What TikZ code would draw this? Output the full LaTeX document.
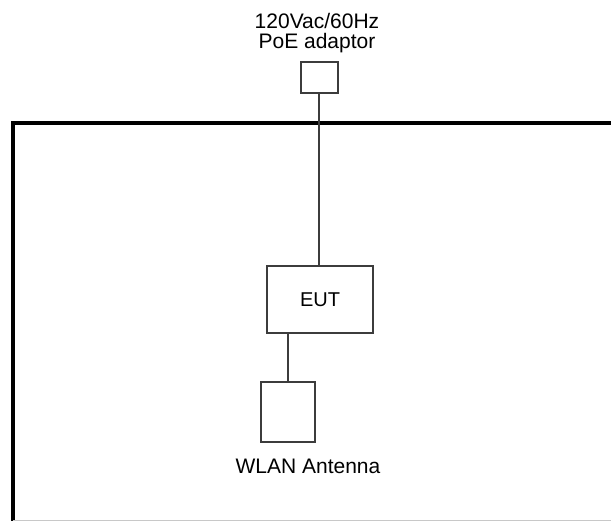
\documentclass[tikz,border=0pt]{standalone}
\usepackage{fontspec}
\setmainfont{Liberation Sans}
\usetikzlibrary{positioning}
\definecolor{edge}{HTML}{3C3C3C}
\definecolor{wall}{HTML}{000000}
\definecolor{crop}{HTML}{C8C8C8}

\begin{document}
\begin{tikzpicture}[x=1pt, y=-1pt,
  unit/.style={draw=edge, line width=2pt, fill=white, inner sep=0pt,
               font=\fontsize{20}{20}\selectfont},
  lbl/.style={font=\fontsize{21}{20}\selectfont, align=center, inner sep=0pt},
  wire/.style={draw=edge, line width=2pt}
]
\useasboundingbox (0,0) rectangle (611,521);

% Shielded room (only left and top walls in view)
\draw[wall, line width=4.5pt] (13,530) -- (13,123) -- (620,123);
\draw[crop, line width=1pt] (13,520) -- (611,520);

% Units
\node[unit, minimum width=37pt, minimum height=31pt]  (psu) at (319,77.5)  {};
\node[unit, minimum width=106pt, minimum height=67pt] (eut) at (320,299.5) {EUT};
\node[unit, minimum width=54pt, minimum height=60pt]  (ant) at (288,412)   {};

% Labels
\node[lbl, anchor=south] (psulbl) at (317,53)  {120Vac/60Hz\\PoE adaptor};
\node[lbl, anchor=base]  (antlbl) at (308,474) {WLAN Antenna};

% Cables
\draw[wire] (psu.south) -- (psu.south |- eut.north);
\draw[wire] (eut.south -| ant.north) -- (ant.north);
\end{tikzpicture}
\end{document}
